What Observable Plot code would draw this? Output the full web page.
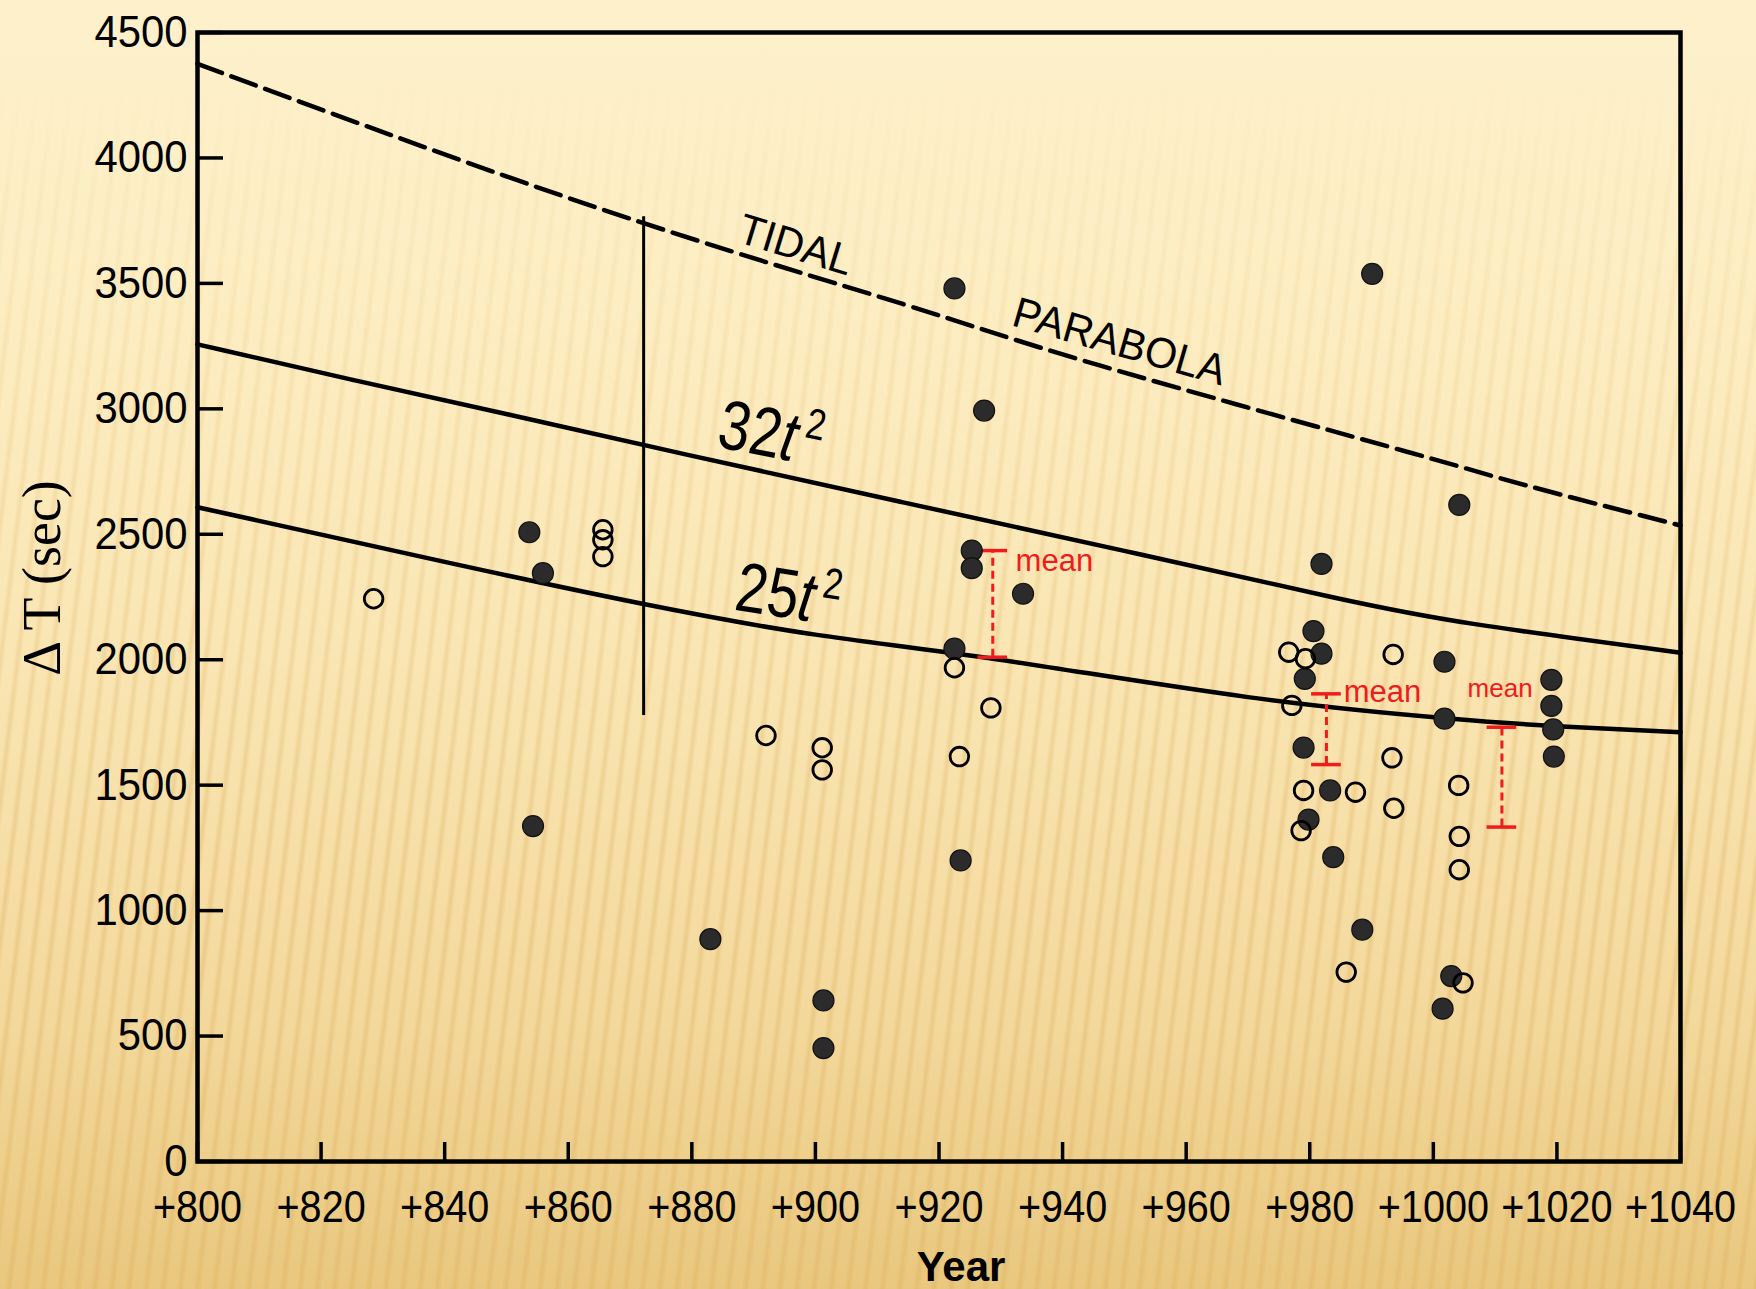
<!DOCTYPE html>
<html>
<head>
<meta charset="utf-8">
<script src="https://cdn.jsdelivr.net/npm/d3@7"></script>
<script src="https://cdn.jsdelivr.net/npm/@observablehq/plot@0.6"></script>
<style>
  html, body { margin: 0; padding: 0; }
  body {
    width: 1756px; height: 1289px; overflow: hidden; position: relative;
    background: linear-gradient(180deg, #fdf0cb 0%, #fdeec4 20%, #fae6b4 50%, #f3d89b 80%, #e9c77e 100%);
  }
  #stripes {
    position: absolute; left: 0; top: 0; width: 1756px; height: 1289px;
    background: repeating-linear-gradient(97deg, rgba(220,172,88,0) 0px, rgba(220,172,88,0) 9px, rgba(220,172,88,0.34) 13px, rgba(220,172,88,0) 17px);
    -webkit-mask-image: linear-gradient(180deg, rgba(0,0,0,0) 6%, rgba(0,0,0,0.45) 28%, rgba(0,0,0,1) 65%);
    mask-image: linear-gradient(180deg, rgba(0,0,0,0) 6%, rgba(0,0,0,0.45) 28%, rgba(0,0,0,1) 65%);
  }
  #chart { position: absolute; left: 0; top: 0; }
</style>
</head>
<body>
<div id="stripes"></div>
<div id="chart"></div>
<script>
// ---------- data ----------
const xTicks = [800, 820, 840, 860, 880, 900, 920, 940, 960, 980, 1000, 1020, 1040];
const yTicks = [0, 500, 1000, 1500, 2000, 2500, 3000, 3500, 4000, 4500];

// filled circles
const filledYears  = [853.7, 855.9, 854.3, 883.0, 901.3, 901.3, 922.5, 927.3, 925.3, 925.3, 933.6, 922.5, 923.5,
                      990.1, 1004.2, 981.9, 980.6, 981.9, 979.2, 979.0, 983.3, 979.8, 983.8, 988.5,
                      1001.8, 1001.8, 1002.9, 1001.5, 1019.1, 1019.1, 1019.4, 1019.5];
const filledValues = [2508, 2345, 1337, 886, 642, 452, 3480, 2993, 2435, 2365, 2263, 2044, 1200,
                      3538, 2617, 2382, 2114, 2024, 1924, 1650, 1479, 1363, 1213, 924,
                      1992, 1765, 739, 609, 1920, 1816, 1722, 1614];

// open circles
const openYears  = [828.5, 865.6, 865.6, 865.6, 892.0, 901.1, 901.1, 922.5, 923.3, 928.4,
                    976.6, 979.3, 977.1, 979.0, 987.4, 978.6, 993.5, 993.3, 993.6,
                    1004.1, 1004.2, 1004.2, 985.9, 1004.8];
const openValues = [2243, 2518, 2478, 2411, 1698, 1649, 1561, 1968, 1614, 1808,
                    2030, 2004, 1818, 1479, 1472, 1319, 2021, 1609, 1408,
                    1499, 1296, 1163, 755, 712];

// curves
const tidalYears  = [800, 865, 914, 946, 995, 1015, 1040];
const tidalValues = [4375, 3799, 3419, 3173, 2834, 2695, 2535];

const c32Years  = [800, 825, 850, 878, 914, 950, 987, 1003, 1040];
const c32Values = [3257, 3115, 2980, 2823, 2628, 2435, 2229, 2150, 2028];

const c25Years  = [800, 840, 872, 900, 929, 970, 1002, 1020, 1040];
const c25Values = [2608, 2390, 2223, 2100, 2003, 1851, 1767, 1735, 1711];

// vertical divider
const dividerYear = 872.2, dividerLow = 1778, dividerHigh = 3766;

// "mean" error bars
const barYears = [928.7, 982.7, 1011.1];
const barLow   = [2010, 1582, 1333];
const barHigh  = [2435, 1864, 1731];

// "mean" labels
const meanYears   = [932.4, 985.5, 1010.8];
const meanValues  = [2392, 1871, 1885];
const meanAnchors = ["start", "start", "middle"];
const meanSizes   = [31, 31, 26];

// curve labels
const curveLabels  = ["TIDAL", "PARABOLA", "32t²", "25t²"];
const curveLabelX  = [896.8, 949.2, 892.8, 895.6];
const curveLabelY  = [3651, 3266, 2898, 2256];
const curveLabelRot = [17, 16, 11, 9];
const curveLabelSize = [43, 43, 70, 70];

// ---------- build ----------
const zip = (xs, ys) => xs.map((x, i) => ({x, y: ys[i]}));
const filled = zip(filledYears, filledValues);
const open = zip(openYears, openValues);
const tidal = zip(tidalYears, tidalValues);
const c32 = zip(c32Years, c32Values);
const c25 = zip(c25Years, c25Values);
const bars = barYears.map((x, i) => ({x, lo: barLow[i], hi: barHigh[i]}));
const means = meanYears.map((x, i) => ({x, y: meanValues[i], anchor: meanAnchors[i], size: meanSizes[i]}));
const labels = curveLabels.map((t, i) => ({t, x: curveLabelX[i], y: curveLabelY[i], r: curveLabelRot[i], s: curveLabelSize[i]}));

const RED = "#f01b1b";
const capHalf = 2.4; // years
const FONT = "'Liberation Sans', Arial, Helvetica, sans-serif";

const chart = Plot.plot({
  width: 1756,
  height: 1289,
  marginLeft: 197,
  marginRight: 76,
  marginTop: 32,
  marginBottom: 128,
  style: {background: "transparent", fontFamily: FONT, color: "#000", overflow: "visible"},
  x: {domain: [800, 1040]},
  y: {domain: [0, 4500]},
  marks: [
    Plot.line(tidal, {x: "x", y: "y", curve: "natural", stroke: "#000", strokeWidth: 4.5, strokeDasharray: "26,10"}),
    Plot.line(c32, {x: "x", y: "y", curve: "basis", stroke: "#000", strokeWidth: 4.5}),
    Plot.line(c25, {x: "x", y: "y", curve: "natural", stroke: "#000", strokeWidth: 4.5}),
    Plot.ruleX([dividerYear], {x: d => d, y1: dividerLow, y2: dividerHigh, stroke: "#000", strokeWidth: 3}),
    Plot.ruleX(bars, {x: "x", y1: "lo", y2: "hi", stroke: RED, strokeWidth: 3, strokeDasharray: "8,5"}),
    Plot.ruleY(bars, {y: "hi", x1: d => d.x - capHalf, x2: d => d.x + capHalf, stroke: RED, strokeWidth: 3.5}),
    Plot.ruleY(bars, {y: "lo", x1: d => d.x - capHalf, x2: d => d.x + capHalf, stroke: RED, strokeWidth: 3.5}),
    Plot.dot(filled, {x: "x", y: "y", r: 10.5, fill: "#2b2b2b", stroke: "#111", strokeWidth: 1.2}),
    Plot.dot(open, {x: "x", y: "y", r: 9.3, fill: "none", stroke: "#000", strokeWidth: 2.8}),
    Plot.frame({stroke: "#000", strokeWidth: 4.5}),
    Plot.axisY({ticks: yTicks, tickSize: -26, tickPadding: 36, tickFormat: d => String(d),
      fontSize: 45, strokeWidth: 3.5, label: null}),
    Plot.axisX({ticks: xTicks, tickSize: -19, tickPadding: 48, tickFormat: d => "+" + d,
      fontSize: 45, strokeWidth: 3.5, label: null}),
    ...means.map(m => Plot.text([m], {x: "x", y: "y", text: () => "mean", fill: RED, fontSize: m.size,
      textAnchor: m.anchor, lineAnchor: "middle"})),
    ...labels.map(l => Plot.text([l], {x: "x", y: "y", text: "t", rotate: l.r, fontSize: l.s,
      textAnchor: "middle", lineAnchor: "middle", fill: "#000"})),
    Plot.text(["Δ T (sec)"], {text: d => d, frameAnchor: "left", dx: -155, dy: -19, rotate: -90,
      fontSize: 54, fontFamily: "'Liberation Serif', 'Times New Roman', serif", textAnchor: "middle", lineAnchor: "middle", fill: "#000"}),
    Plot.text(["Year"], {text: d => d, frameAnchor: "bottom", dx: 22, dy: 106, fontSize: 42,
      fontWeight: "bold", textAnchor: "middle", lineAnchor: "middle", fill: "#000"})
  ]
});

// italic t and raised exponent in curve labels
d3.select(chart).selectAll("text").each(function () {
  const m = /^(\d+)t²$/.exec(this.textContent);
  if (m) {
    this.innerHTML = `${m[1]}<tspan font-style="italic">t</tspan><tspan dx="8" dy="-0.6em" font-size="0.62em">2</tspan>`;
  }
});

document.getElementById("chart").appendChild(chart);

// condensed lettering like the original artwork
function squash(sel, k) {
  sel.each(function () {
    const w = this.getComputedTextLength();
    if (w > 0) {
      this.setAttribute("textLength", (w * k).toFixed(1));
      this.setAttribute("lengthAdjust", "spacingAndGlyphs");
    }
  });
}
const svg = d3.select(chart);
squash(svg.selectAll('g[aria-label="y-axis tick label"] text'), 0.93);
squash(svg.selectAll('g[aria-label="x-axis tick label"] text'), 0.88);
squash(svg.selectAll("text").filter(function () { return /^(TIDAL|PARABOLA)$/.test(this.textContent); }), 0.96);
squash(svg.selectAll("text").filter(function () { return /t2$/.test(this.textContent); }), 0.86);
</script>
</body>
</html>
